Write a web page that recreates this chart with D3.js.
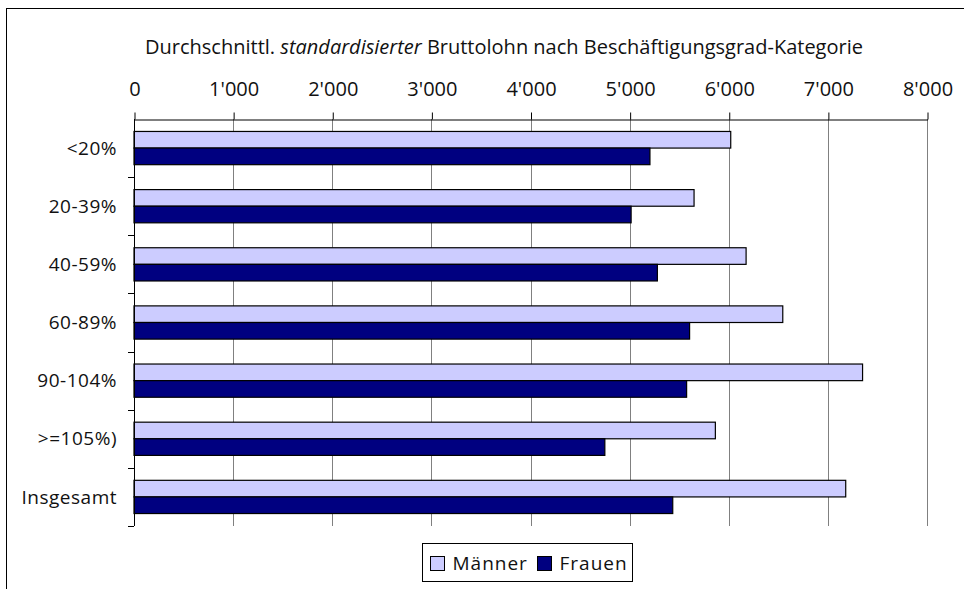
<!DOCTYPE html>
<html>
<head>
<meta charset="utf-8">
<script src="https://cdn.jsdelivr.net/npm/d3@7"></script>
<style>
  body { margin: 0; background: #fff; }
  svg { display: block; font-family: "Open Sans", sans-serif; }
</style>
</head>
<body>
<svg width="964" height="589"></svg>
<script>
// categories and series (CHF per month)
var categories = ["<20%", "20-39%", "40-59%", "60-89%", "90-104%", ">=105%)", "Insgesamt"];
var series = ["Männer", "Frauen"];
var maenner = [6020, 5650, 6175, 6545, 7350, 5865, 7180];
var frauen = [5205, 5015, 5280, 5605, 5575, 4750, 5435];
var tickValues = [0, 1000, 2000, 3000, 4000, 5000, 6000, 7000, 8000];
var colors = ["#ccccff", "#000080"];

var svg = d3.select("svg");

var locale = d3.formatLocale({ decimal: ".", thousands: "'", grouping: [3], currency: ["", ""] });
var fmt = locale.format(",");

var plotTop = 119, plotBottom = 526;
var x = d3.scaleLinear().domain([0, 8000]).range([134, 927]);
var y = d3.scaleBand().domain(categories).range([plotTop, plotBottom]);
var ySeries = d3.scaleBand().domain(series).range([0, y.bandwidth()]).paddingOuter(0.75);

// outer frame (only top and left edges visible)
svg.append("rect")
  .attr("x", 6.5).attr("y", 8.5)
  .attr("width", 1200).attr("height", 1200)
  .attr("fill", "none").attr("stroke", "#000");

svg.append("text")
  .attr("x", 504).attr("y", 54)
  .attr("text-anchor", "middle")
  .attr("font-size", 20)
  .attr("fill", "#111")
  .call(function(t) {
    t.append("tspan").text("Durchschnittl. ");
    t.append("tspan").attr("font-style", "italic").text("standardisierter");
    t.append("tspan").text(" Bruttolohn nach Beschäftigungsgrad-Kategorie");
  });

// gridlines
svg.append("g")
  .selectAll("line")
  .data(tickValues.slice(1))
  .enter()
  .append("line")
  .attr("x1", function(d) { return Math.round(x(d)) + 0.5; })
  .attr("x2", function(d) { return Math.round(x(d)) + 0.5; })
  .attr("y1", plotTop).attr("y2", plotBottom)
  .attr("stroke", "#808080");

// top axis
var xAxis = svg.append("g")
  .attr("transform", "translate(0.5," + (plotTop + 0.5) + ")")
  .call(d3.axisTop(x).tickValues(tickValues).tickFormat(fmt).tickSizeInner(7).tickSizeOuter(0).tickPadding(17));
xAxis.select(".domain").attr("stroke", "#000");
xAxis.selectAll(".tick line").attr("stroke", "#000");
xAxis.selectAll("text").attr("font-size", 20).attr("fill", "#111").attr("font-family", "Open Sans, sans-serif");

// bars
var data = categories.map(function(c, i) {
  return { cat: c, values: [maenner[i], frauen[i]] };
});

var groups = svg.append("g")
  .selectAll("g")
  .data(data)
  .enter()
  .append("g")
  .attr("transform", function(d) { return "translate(0," + y(d.cat) + ")"; });

groups.selectAll("rect")
  .data(function(d) { return d.values.map(function(v, j) { return { s: series[j], v: v, j: j }; }); })
  .enter()
  .append("rect")
  .attr("x", x(0))
  .attr("y", function(d) { return ySeries(d.s); })
  .attr("width", function(d) { return x(d.v) - x(0); })
  .attr("height", ySeries.bandwidth())
  .attr("fill", function(d) { return colors[d.j]; })
  .attr("stroke", "#000")
  .attr("stroke-width", 1.2);

// left axis
svg.append("line")
  .attr("x1", 134.5).attr("x2", 134.5)
  .attr("y1", plotTop).attr("y2", plotBottom)
  .attr("stroke", "#000");

var boundaries = categories.map(function(c) { return y(c) + y.bandwidth(); });
svg.append("g")
  .selectAll("line")
  .data(boundaries)
  .enter()
  .append("line")
  .attr("x1", 128).attr("x2", 134)
  .attr("y1", function(d) { return Math.round(d) + 0.5; })
  .attr("y2", function(d) { return Math.round(d) + 0.5; })
  .attr("stroke", "#000");

svg.append("g")
  .selectAll("text")
  .data(categories)
  .enter()
  .append("text")
  .attr("x", 117)
  .attr("y", function(d) { return y(d) + y.bandwidth() / 2; })
  .attr("dy", "0.35em")
  .attr("text-anchor", "end")
  .attr("font-size", 19)
  .attr("letter-spacing", 0.5)
  .attr("fill", "#111")
  .text(function(d) { return d; });

// legend
var legend = svg.append("g").attr("transform", "translate(422.5,543.5)");
legend.append("rect")
  .attr("width", 210).attr("height", 38)
  .attr("fill", "#fff").attr("stroke", "#000");

var items = legend.selectAll("g")
  .data(series)
  .enter()
  .append("g")
  .attr("transform", function(d, i) { return "translate(" + [8, 115][i] + ",0)"; });
items.append("rect")
  .attr("y", 13).attr("width", 14).attr("height", 14)
  .attr("fill", function(d, i) { return colors[i]; })
  .attr("stroke", "#000");
items.append("text")
  .attr("x", 22).attr("y", 20)
  .attr("dy", "0.35em")
  .attr("font-size", 19)
  .attr("letter-spacing", 1)
  .attr("fill", "#111")
  .text(function(d) { return d; });
</script>
</body>
</html>
